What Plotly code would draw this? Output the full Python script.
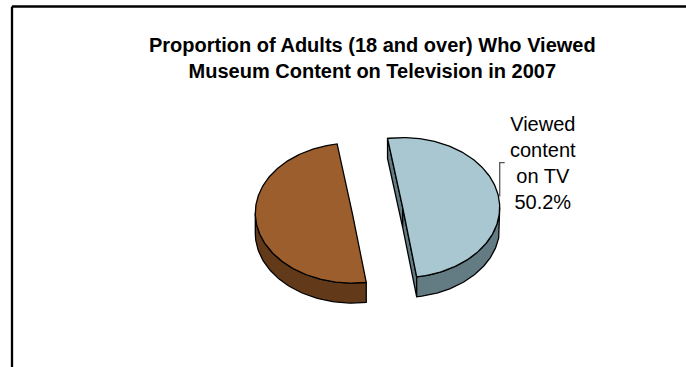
import numpy as np
import plotly.graph_objects as go

# Survey shares (percent of adults 18+)
labels = ["Viewed content on TV", "Did not view content on TV"]
values = [50.2, 49.8]
label_lines = ["Viewed<br>content<br>on TV", None]
top_colors = ["#A8C7D0", "#9C5E2C"]
side_colors = ["#637C84", "#623A1A"]

title_text = ("<b>Proportion of Adults (18 and over) Who Viewed<br>"
              "Museum Content on Television in 2007</b>")

# Canvas and 3D-pie styling
W, H = 686, 367
CX, CY = 377.5, 210.3      # pie centre on the canvas
RX, RY = 97.0, 70.0        # ellipse radii (tilted disc)
DEPTH = 20.0               # thickness of the disc
EXPLODE = 25.5             # pull-out distance of each slice
START = 99.0               # angle of first slice edge (degrees, ccw from +x)
FONT = "Liberation Sans, Arial, sans-serif"


def rim(cx, cy, ang_deg, dz=0.0):
    a = np.radians(ang_deg)
    return cx + RX * np.cos(a), cy - RY * np.sin(a) + dz


def poly(xs, ys, fill):
    return go.Scatter(
        x=list(xs) + [xs[0]], y=list(ys) + [ys[0]],
        mode="lines", fill="toself", fillcolor=fill,
        line=dict(color="black", width=1.3),
        hoverinfo="skip", showlegend=False,
    )


fig = go.Figure()
total = sum(values)
angle = START
label_anchor = {}

for i, v in enumerate(values):
    span = v / total * 360.0
    a0, a1 = angle, angle - span
    angle = a1
    mid = np.radians((a0 + a1) / 2)
    ox = CX + EXPLODE * np.cos(mid)
    oy = CY - EXPLODE * (RY / RX) * np.sin(mid)

    # radial cut faces that turn toward the viewer
    for edge, normal in ((a0, a0 + 90.0), (a1, a1 - 90.0)):
        if np.sin(np.radians(normal)) < 0:
            ex, ey = rim(ox, oy, edge)
            fig.add_trace(poly([ox, ex, ex, ox], [oy, ey, ey + DEPTH, oy + DEPTH],
                               side_colors[i]))

    # outer wall on the front half of the disc
    for k in range(-2, 3):
        lo, hi = max(a1, -180.0 + 360 * k), min(a0, 360 * k)
        if hi > lo:
            th = np.linspace(lo, hi, 80)
            tx, ty = rim(ox, oy, th)
            bx, by = rim(ox, oy, th[::-1], DEPTH)
            fig.add_trace(poly(np.concatenate([tx, bx]), np.concatenate([ty, by]),
                               side_colors[i]))

    # top face
    th = np.linspace(a0, a1, 200)
    tx, ty = rim(ox, oy, th)
    fig.add_trace(poly(np.concatenate([[ox], tx]), np.concatenate([[oy], ty]),
                       top_colors[i]))

    if label_lines[i]:
        label_anchor[i] = rim(ox, oy, 0.0)

# data label with its leader bracket
for i, (lx, ly) in label_anchor.items():
    tx, ty = lx + 43, ly - 97
    fig.add_annotation(
        x=tx, y=ty, xref="x", yref="y", xanchor="center", yanchor="top",
        text=f"{label_lines[i]}<br>{values[i]}%", showarrow=False,
        font=dict(family=FONT, size=20, color="black"), align="center",
    )
    fig.add_shape(type="path", xref="x", yref="y",
                  path=f"M {lx + 5} {ly - 45} L {lx} {ly - 45} L {lx} {ly - 11}",
                  line=dict(color="#555555", width=1.3))

# title
fig.add_annotation(
    x=372, y=32, xref="x", yref="y", xanchor="center", yanchor="top",
    text=title_text, showarrow=False, align="center",
    font=dict(family=FONT, size=20, color="black"),
)

# chart frame
fig.add_shape(type="line", xref="x", yref="y", x0=12, y0=6.5, x1=W, y1=6.5,
              line=dict(color="black", width=2.3))
fig.add_shape(type="line", xref="x", yref="y", x0=12, y0=6.5, x1=12, y1=H,
              line=dict(color="black", width=2.3))

fig.update_layout(
    width=W, height=H, autosize=False,
    margin=dict(l=0, r=0, t=0, b=0, pad=0),
    paper_bgcolor="white", plot_bgcolor="white",
    showlegend=False,
    xaxis=dict(range=[0, W], visible=False, fixedrange=True),
    yaxis=dict(range=[H, 0], visible=False, fixedrange=True),
)

fig.write_html("out.html")
